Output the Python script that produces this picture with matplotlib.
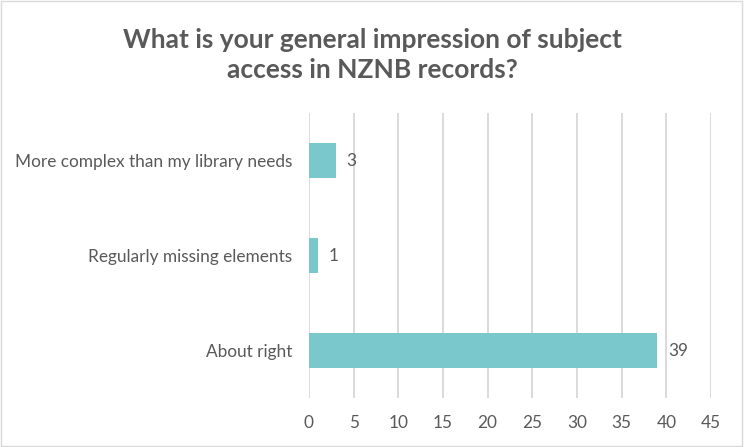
import matplotlib
matplotlib.use("Agg")
from matplotlib import pyplot as plt
from matplotlib.patches import Rectangle

# data
categories = ["About right", "Regularly missing elements", "More complex than my library needs"]
counts = [39, 1, 3]
xticks = [0, 5, 10, 15, 20, 25, 30, 35, 40, 45]
title = "What is your general impression of subject\naccess in NZNB records?"

bar_color = "#7AC7CC"
text_color = "#595959"
grid_color = "#D4D4D4"

plt.rcParams['font.family'] = ['Lato', 'DejaVu Sans']

fig = plt.figure(figsize=(7.44, 4.47), dpi=100)
ax = fig.add_axes([0.4153, 0.1096, 0.5403, 0.6376])

ypos = list(range(len(categories)))
ax.barh(ypos, counts, height=0.36, color=bar_color, zorder=3)
for y, v in zip(ypos, counts):
    ax.text(v + 1.2, y, str(v), va='center', ha='left', fontsize=12.4, color=text_color)

ax.set_xlim(0, 45)
ax.set_ylim(-0.5, 2.5)
ax.set_xticks(xticks)
ax.set_yticks(ypos)
ax.set_yticklabels(categories)
ax.tick_params(axis='both', length=0, labelsize=12.4, labelcolor=text_color)
ax.tick_params(axis='x', pad=12)
ax.tick_params(axis='y', pad=12)
ax.grid(axis='x', color=grid_color, linewidth=1.2, zorder=0)
for s in ax.spines.values():
    s.set_visible(False)

fig.text(0.5, 0.878, title, ha='center', va='center', fontsize=19, fontweight='bold',
         color=text_color, linespacing=1.3)

# chart border
fig.patches.append(Rectangle((0.002, 0.003), 0.995, 0.994, transform=fig.transFigure,
                             fill=False, edgecolor="#D9D9D9", linewidth=1))

fig.savefig("out.png", dpi=100)
